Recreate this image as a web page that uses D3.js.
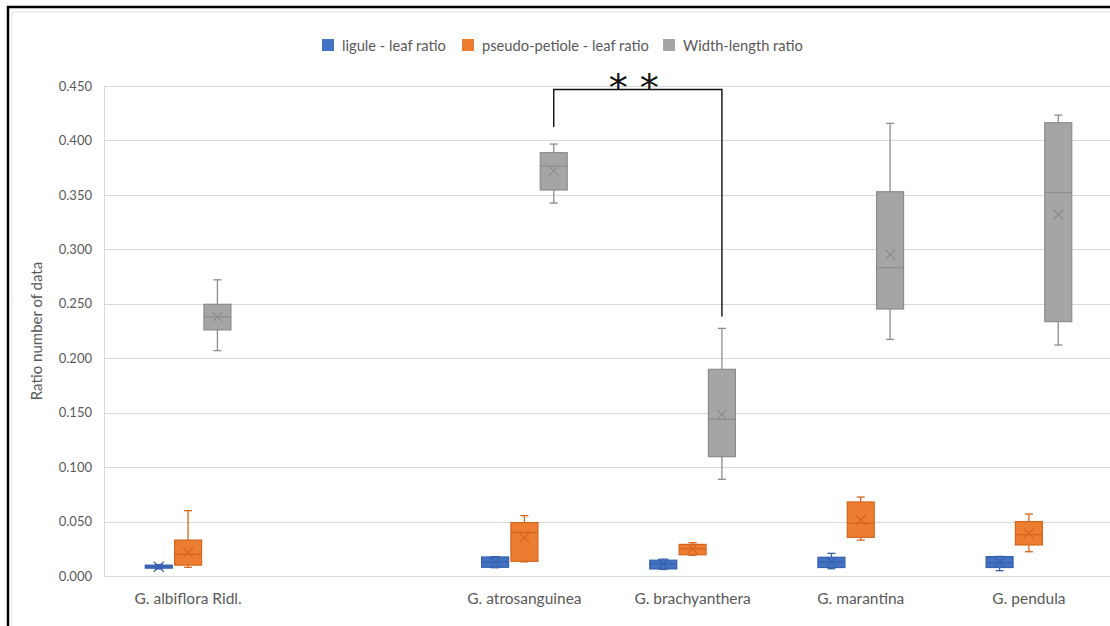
<!DOCTYPE html>
<html>
<head>
<meta charset="utf-8">
<script src="https://cdn.jsdelivr.net/npm/d3@7"></script>
<style>
  html, body { margin: 0; padding: 0; background: #fff; }
  svg { display: block; }
  text { font-family: Lato, "Open Sans", sans-serif; fill: #595959; }
</style>
</head>
<body>
<svg id="chart" width="1110" height="626"></svg>
<script>
// Categories on the x axis (the second slot is an empty category)
const categories = ["G. albiflora Ridl.", "", "G. atrosanguinea", "G. brachyanthera", "G. marantina", "G. pendula"];
const seriesNames = ["ligule - leaf ratio", "pseudo-petiole - leaf ratio", "Width-length ratio"];
const seriesColors = ["#4472C4", "#ED7D31", "#A5A5A5"];
const seriesStroke = ["#3561ad", "#d4661c", "#8c8c8c"];
const yTicks = [0, 0.05, 0.10, 0.15, 0.20, 0.25, 0.30, 0.35, 0.40, 0.45];

// Five-number summaries plus mean, one entry per category (null = empty category)
// [min, q1, median, q3, max, mean]
const ligule = [
  [0.0065, 0.0072, 0.0085, 0.0100, 0.0105, 0.0085],
  null,
  [0.0076, 0.0080, 0.0130, 0.0175, 0.0178, 0.0130],
  [0.0060, 0.0065, 0.0110, 0.0145, 0.0155, 0.0110],
  [0.0067, 0.0078, 0.0130, 0.0172, 0.0208, 0.0130],
  [0.0049, 0.0078, 0.0120, 0.0178, 0.0180, 0.0125]
];
const pseudoPetiole = [
  [0.0080, 0.0100, 0.0200, 0.0330, 0.0600, 0.0214],
  null,
  [0.0130, 0.0135, 0.0400, 0.0490, 0.0554, 0.0350],
  [0.0190, 0.0195, 0.0250, 0.0290, 0.0306, 0.0250],
  [0.0330, 0.0355, 0.0484, 0.0680, 0.0725, 0.0514],
  [0.0223, 0.0285, 0.0380, 0.0500, 0.0569, 0.0392]
];
const widthLength = [
  [0.2070, 0.2260, 0.2380, 0.2495, 0.2720, 0.2380],
  null,
  [0.3425, 0.3545, 0.3765, 0.3888, 0.3967, 0.3720],
  [0.0888, 0.1096, 0.1439, 0.1898, 0.2274, 0.1485],
  [0.2173, 0.2452, 0.2831, 0.3529, 0.4157, 0.2954],
  [0.2121, 0.2336, 0.3520, 0.4163, 0.4233, 0.3320]
];
const seriesData = [ligule, pseudoPetiole, widthLength];

// Significance bracket between two width-length boxes
const sigFrom = "G. atrosanguinea";
const sigTo = "G. brachyanthera";
const sigLevel = 0.447;
const sigLabel = "* *";

const svg = d3.select("#chart");
const plot = { left: 104, right: 1113, top: 86, bottom: 576 };

// Outer frame and chart area border
svg.append("rect").attr("x", 8).attr("y", 7).attr("width", 1120).attr("height", 640)
  .attr("fill", "none").attr("stroke", "#000").attr("stroke-width", 2.5);
svg.append("rect").attr("x", 12).attr("y", 12).attr("width", 1110).attr("height", 630)
  .attr("fill", "none").attr("stroke", "#e3e3e3").attr("stroke-width", 1);

const x0 = d3.scaleBand().domain(categories).range([plot.left, plot.right]).padding(0);
const x1 = d3.scaleBand().domain(seriesNames).range([-44, 44]).padding(0);
const y = d3.scaleLinear().domain([0, 0.45]).range([plot.bottom, plot.top]);

const boxW = x1.bandwidth() * 0.92;
const centerX = (cat, s) => x0(cat) + x0.bandwidth() / 2 + x1(s) + x1.bandwidth() / 2;

// Gridlines
svg.append("g").selectAll("line").data(yTicks).join("line")
  .attr("x1", plot.left).attr("x2", plot.right)
  .attr("y1", d => Math.round(y(d)) + 0.5).attr("y2", d => Math.round(y(d)) + 0.5)
  .attr("stroke", "#d9d9d9").attr("stroke-width", 1);
svg.append("line").attr("x1", plot.left + 0.5).attr("x2", plot.left + 0.5)
  .attr("y1", y(0.45)).attr("y2", y(0))
  .attr("stroke", "#d9d9d9");

// Y axis labels
const yAxis = d3.axisLeft(y).tickValues(yTicks).tickFormat(d3.format(".3f")).tickSize(0).tickPadding(12);
const gy = svg.append("g").attr("transform", `translate(${plot.left},0)`).call(yAxis);
gy.select(".domain").remove();
gy.selectAll("text").style("font-size", "13px").attr("fill", "#595959").style("font-family", "Lato, sans-serif");

// X axis labels
const xAxis = d3.axisBottom(x0).tickSize(0).tickPadding(17);
const gx = svg.append("g").attr("transform", `translate(0,${plot.bottom})`).call(xAxis);
gx.select(".domain").remove();
gx.selectAll("text").style("font-size", "15.5px").attr("fill", "#595959").style("font-family", "Lato, sans-serif");

// Y axis title
svg.append("text")
  .attr("transform", `translate(42,${(plot.top + plot.bottom) / 2}) rotate(-90)`)
  .attr("text-anchor", "middle")
  .style("font-size", "15px")
  .text("Ratio number of data");

// Box plots
seriesNames.forEach((s, si) => {
  const g = svg.append("g");
  const rows = categories.map((c, ci) => ({ c, v: seriesData[si][ci] })).filter(d => d.v);
  const col = seriesColors[si], stroke = seriesStroke[si];
  rows.forEach(({ c, v }) => {
    const [mn, q1, md, q3, mx, mean] = v;
    const cx = centerX(c, s);
    const cap = 4;
    // whiskers
    g.append("line").attr("x1", cx).attr("x2", cx).attr("y1", y(mx)).attr("y2", y(q3))
      .attr("stroke", stroke).attr("stroke-width", 1.3);
    g.append("line").attr("x1", cx).attr("x2", cx).attr("y1", y(q1)).attr("y2", y(mn))
      .attr("stroke", stroke).attr("stroke-width", 1.3);
    g.append("line").attr("x1", cx - cap).attr("x2", cx + cap).attr("y1", y(mx)).attr("y2", y(mx))
      .attr("stroke", stroke).attr("stroke-width", 1.3);
    g.append("line").attr("x1", cx - cap).attr("x2", cx + cap).attr("y1", y(mn)).attr("y2", y(mn))
      .attr("stroke", stroke).attr("stroke-width", 1.3);
    // box
    g.append("rect").attr("x", cx - boxW / 2).attr("y", y(q3))
      .attr("width", boxW).attr("height", Math.max(y(q1) - y(q3), 1))
      .attr("fill", col).attr("stroke", stroke).attr("stroke-width", 1.2);
    // median
    g.append("line").attr("x1", cx - boxW / 2).attr("x2", cx + boxW / 2)
      .attr("y1", y(md)).attr("y2", y(md))
      .attr("stroke", stroke).attr("stroke-width", 1.2);
    // mean marker
    const m = 5;
    g.append("path")
      .attr("d", `M${cx - m},${y(mean) - m}L${cx + m},${y(mean) + m}M${cx - m},${y(mean) + m}L${cx + m},${y(mean) - m}`)
      .attr("stroke", stroke).attr("stroke-width", 1.2).attr("fill", "none");
  });
});

// Significance bracket
const wlIdx = 2;
const fromV = widthLength[categories.indexOf(sigFrom)];
const toV = widthLength[categories.indexOf(sigTo)];
const bx1 = centerX(sigFrom, seriesNames[wlIdx]);
const bx2 = centerX(sigTo, seriesNames[wlIdx]);
const by = Math.round(y(sigLevel)) + 0.5;
svg.append("path")
  .attr("d", `M${bx1},${y(fromV[4]) - 17}V${by}H${bx2}V${y(toV[4]) - 12}`)
  .attr("fill", "none").attr("stroke", "#111").attr("stroke-width", 1.4);
svg.append("text")
  .attr("x", (bx1 + bx2) / 2 - 4).attr("y", by + 11)
  .attr("text-anchor", "middle")
  .style("font-family", "'DejaVu Sans', sans-serif")
  .style("font-size", "38px")
  .style("fill", "#111")
  .text(sigLabel);

// Legend
const legendX = [322, 462, 663];
const lg = svg.append("g");
seriesNames.forEach((s, i) => {
  lg.append("rect").attr("x", legendX[i]).attr("y", 39).attr("width", 12).attr("height", 12)
    .attr("fill", seriesColors[i]);
  lg.append("text").attr("x", legendX[i] + 20).attr("y", 50.5)
    .style("font-size", "14.7px").text(s);
});
</script>
</body>
</html>
